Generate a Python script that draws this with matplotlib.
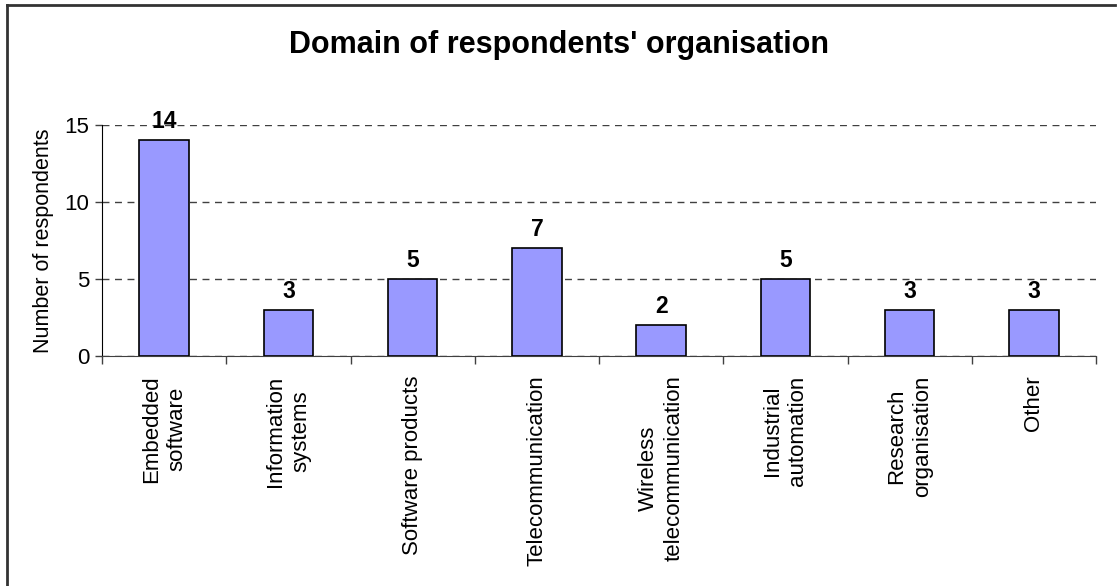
import matplotlib.pyplot as plt
from matplotlib.lines import Line2D
import numpy as np

plt.rcParams['font.family'] = ['Liberation Sans', 'DejaVu Sans']

categories = ["Embedded\nsoftware", "Information\nsystems", "Software products",
              "Telecommunication", "Wireless\ntelecommunication", "Industrial\nautomation",
              "Research\norganisation", "Other"]
respondents = [14, 3, 5, 7, 2, 5, 3, 3]
y_ticks = [0, 5, 10, 15]

fig = plt.figure(figsize=(11.18, 5.86), dpi=100)
ax = fig.add_axes([102 / 1118, 1 - 356 / 586, 994 / 1118, 231 / 586])

x = np.arange(len(categories))
bars = ax.bar(x, respondents, width=0.4, color="#9999FF", edgecolor="black", linewidth=1.2, zorder=3)
for b, v in zip(bars, respondents):
    ax.text(b.get_x() + b.get_width() / 2, v + 0.45, str(v), ha="center", va="bottom",
            fontsize=16.5, fontweight="bold", clip_on=False)

ax.set_xlim(-0.5, len(categories) - 0.5)
ax.set_ylim(0, 15)
ax.set_yticks(y_ticks)
ax.yaxis.grid(True, linestyle=(0, (5, 4)), color="#404040", linewidth=1)
ax.set_axisbelow(True)

# ticks between categories, labels at centres
ax.set_xticks(np.arange(len(categories) + 1) - 0.5)
ax.set_xticklabels([])
ax.set_xticks(x, minor=True)
ax.set_xticklabels(categories, minor=True, rotation=90, fontsize=16, va="top", ha="center",
                   multialignment="center", linespacing=1.25)
ax.tick_params(axis="x", which="minor", length=0, pad=14)
ax.tick_params(axis="x", which="major", length=6, width=1, color="#404040", direction="out")
ax.tick_params(axis="y", length=5, width=1, color="#404040", labelsize=16, pad=4)

for s in ["top", "right"]:
    ax.spines[s].set_visible(False)
ax.spines["left"].set_color("black")
ax.spines["bottom"].set_color("#404040")

ax.set_ylabel("Number of respondents", fontsize=15.5, labelpad=8)
fig.text(0.5, 1 - 45 / 586, "Domain of respondents' organisation", ha="center", va="center",
         fontsize=22, fontweight="bold")

# frame of the chart area (left and top edges visible)
fig.add_artist(Line2D([7 / 1118, 7 / 1118], [0, 1 - 5 / 586], color="#333333", linewidth=2, transform=fig.transFigure))
fig.add_artist(Line2D([7 / 1118, 1115 / 1118], [1 - 5 / 586, 1 - 5 / 586], color="#333333", linewidth=2, transform=fig.transFigure))

fig.savefig("out.png", dpi=100)
